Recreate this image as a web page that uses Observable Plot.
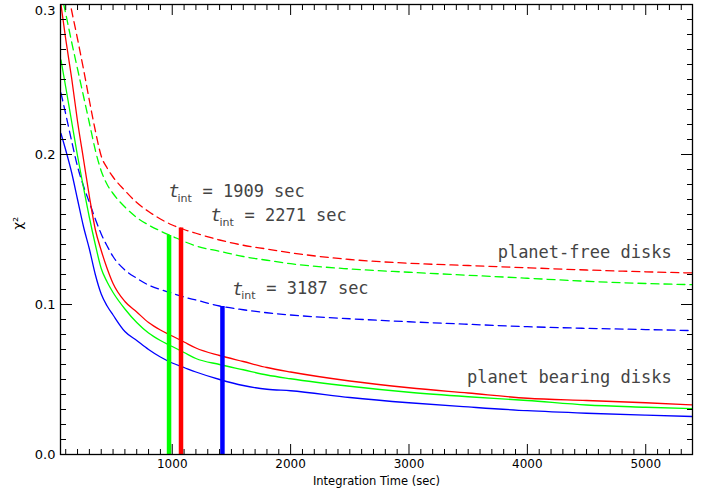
<!DOCTYPE html>
<html><head><meta charset="utf-8">
<script src="https://cdn.jsdelivr.net/npm/d3@7"></script>
<script src="https://cdn.jsdelivr.net/npm/@observablehq/plot@0.6"></script>
<style>body{margin:0;background:#fff} #chart svg{display:block}</style>
</head><body><div id="chart"></div>
<script>
// Integration time grid (sec)
const tGrid = [60,100,150,200,250,300,350,400,450,500,600,700,800,900,1000,1100,1200,1400,1600,1800,2000,2500,3000,3500,4000,4500,5000,5400];

// planet bearing disks (solid)
const redBearing   = [0.300,0.277,0.251,0.222,0.197,0.172,0.150,0.136,0.124,0.114,0.102,0.095,0.088,0.083,0.079,0.075,0.071,0.066,0.062,0.058,0.055,0.049,0.0445,0.041,0.0375,0.036,0.0345,0.033];
const greenBearing = [0.263,0.245,0.222,0.199,0.178,0.158,0.140,0.124,0.115,0.108,0.097,0.088,0.081,0.076,0.072,0.068,0.064,0.060,0.0565,0.053,0.0505,0.0455,0.0415,0.0385,0.036,0.033,0.0315,0.0305];
const blueBearing  = [0.214,0.203,0.188,0.170,0.152,0.137,0.120,0.107,0.099,0.093,0.082,0.076,0.070,0.065,0.061,0.058,0.055,0.050,0.046,0.0435,0.0425,0.038,0.0345,0.0317,0.0292,0.0275,0.0262,0.0253];

// planet-free disks (dashed)
const redFree   = [0.331,0.315,0.296,0.277,0.257,0.236,0.216,0.199,0.191,0.185,0.176,0.168,0.162,0.157,0.153,0.150,0.1475,0.143,0.1395,0.137,0.1345,0.130,0.1275,0.126,0.1245,0.123,0.1218,0.121];
const greenFree = [0.309,0.294,0.275,0.257,0.239,0.221,0.203,0.189,0.180,0.174,0.165,0.158,0.153,0.149,0.1455,0.142,0.139,0.1355,0.132,0.1295,0.1272,0.1237,0.1215,0.1195,0.1175,0.1155,0.114,0.1132];
const blueFree  = [0.241,0.227,0.209,0.192,0.179,0.168,0.157,0.147,0.139,0.132,0.123,0.1175,0.113,0.110,0.1075,0.105,0.103,0.099,0.0965,0.0945,0.093,0.0905,0.0885,0.0868,0.0852,0.0841,0.0833,0.0826];

// vertical markers
const barT     = [973, 1074, 1424];
const barTop   = [0.146, 0.151, 0.0987];
const barColor = ["#00ff00", "#ff0000", "#0000ff"];

// t_int annotations
const tintValue = ["1909", "2271", "3187"];
const tintX     = [968, 1323, 1507];
const tintY     = [0.1753, 0.1593, 0.1105];

// region labels
const regionText = ["planet-free disks", "planet bearing disks"];
const regionX    = [5219, 5219];
const regionY    = [0.1349, 0.0515];

// ticks
const xMajor = [1000, 2000, 3000, 4000, 5000];
const xMinor = d3.range(100, 5400, 100).filter(d => d % 1000 !== 0);
const yMajor = [0, 0.1, 0.2, 0.3];
const yLabelLow = [0, 0.1, 0.2];
const yLabelTop = [0.3];
const yMinor = d3.range(1, 30).filter(i => i % 10 !== 0).map(i => i / 100);

const series = [
  {vals: redFree, color: "#ff0000", dash: "8,5"},
  {vals: greenFree, color: "#00ff00", dash: "8,5"},
  {vals: blueFree, color: "#0000ff", dash: "8,5"},
  {vals: redBearing, color: "#ff0000", dash: null},
  {vals: greenBearing, color: "#00ff00", dash: null},
  {vals: blueBearing, color: "#0000ff", dash: null}
];

const lineMarks = series.map(s => Plot.line(tGrid.map((t, i) => ({t, chi: s.vals[i]})), {
  x: "t", y: "chi", stroke: s.color, strokeWidth: 1.3, strokeDasharray: s.dash, curve: "monotone-x", clip: true
}));

const bars = barT.map((t, i) => ({t, top: barTop[i], color: barColor[i]}));
const tints = tintValue.map((v, i) => ({v, x: tintX[i], y: tintY[i]}));
const regions = regionText.map((s, i) => ({s, x: regionX[i], y: regionY[i]}));

const annoFont = "DejaVu Sans Mono";
const annoFill = "#444";

const chart = Plot.plot({
  width: 718, height: 499,
  marginLeft: 60, marginRight: 26, marginTop: 4, marginBottom: 45,
  style: {fontFamily: "DejaVu Sans", fontSize: "12px", background: "white", color: "black"},
  x: {domain: [56, 5395], label: null},
  y: {domain: [0, 0.3], label: null},
  color: {type: "identity"},
  marks: [
    ...lineMarks,
    Plot.ruleX(bars, {x: "t", y1: 0, y2: "top", stroke: "color", strokeWidth: 4.5}),
    // axes ticks (inward)
    Plot.axisX(xMajor, {anchor: "bottom", tickSize: -10, fill: "none", label: null}),
    Plot.axisX(xMinor, {anchor: "bottom", tickSize: -5, fill: "none", label: null}),
    Plot.axisX(xMajor, {anchor: "top", tickSize: -10, fill: "none", label: null}),
    Plot.axisX(xMinor, {anchor: "top", tickSize: -5, fill: "none", label: null}),
    Plot.axisY(yMajor, {anchor: "left", tickSize: -12, fill: "none", label: null}),
    Plot.axisY(yMinor, {anchor: "left", tickSize: -6, fill: "none", label: null}),
    Plot.axisY(yMajor, {anchor: "right", tickSize: -12, fill: "none", label: null}),
    Plot.axisY(yMinor, {anchor: "right", tickSize: -6, fill: "none", label: null}),
    // tick labels
    Plot.axisX(xMajor, {anchor: "bottom", tickSize: 0, tickPadding: 5, tickFormat: d => String(d), label: null, fontSize: 12}),
    Plot.axisY(yLabelLow, {anchor: "left", tickSize: 0, tickPadding: 5, tickFormat: d3.format(".1f"), label: null, fontSize: 13}),
    Plot.axisY(yLabelTop, {anchor: "left", tickSize: 0, tickPadding: 5, tickFormat: d3.format(".1f"), label: null, fontSize: 13, dy: 6}),
    Plot.frame({stroke: "black", strokeWidth: 1.3}),
    // axis titles
    Plot.text(["Integration Time (sec)"], {frameAnchor: "bottom", dy: 30, fontSize: 11.5, fill: "black"}),
    Plot.text(["χ²"], {frameAnchor: "left", dx: -43, rotate: -90, fontSize: 13, fill: "black"}),
    // t_int annotations
    Plot.text(tints, {x: "x", y: "y", text: () => "t", textAnchor: "start", fontStyle: "italic", fontSize: 18, fontFamily: annoFont, fill: annoFill}),
    Plot.text(tints, {x: "x", y: "y", text: () => "int", textAnchor: "start", dx: 9, dy: 7, fontSize: 11, fontFamily: "DejaVu Sans", fill: annoFill}),
    Plot.text(tints, {x: "x", y: "y", text: d => `= ${d.v} sec`, textAnchor: "start", dx: 34, fontSize: 17, fontFamily: annoFont, fill: annoFill}),
    Plot.text(regions, {x: "x", y: "y", text: "s", textAnchor: "end", fontSize: 17, fontFamily: annoFont, fill: annoFill})
  ]
});
document.getElementById("chart").appendChild(chart);
</script>
</body></html>
